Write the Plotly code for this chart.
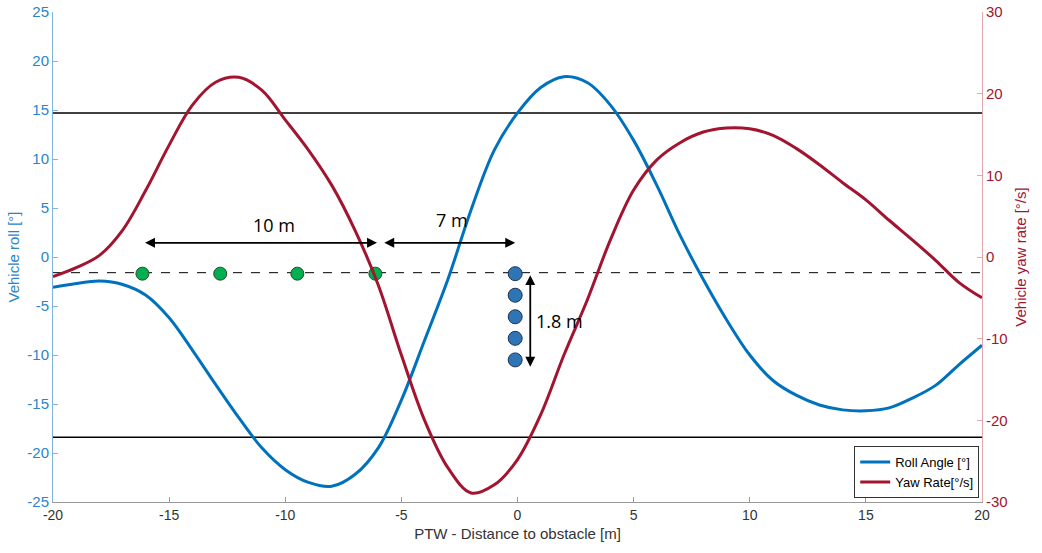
import plotly.graph_objects as go

# Roll angle (left axis, deg)
roll_x = [-20, -19, -18, -17, -16, -15, -14, -13, -12, -11, -10, -9, -8, -7, -6, -5, -4, -3, -2, -1,
          0, 1, 2, 3, 4, 5, 6, 7, 8, 9, 10, 11, 12, 13, 14, 15, 16, 17, 18, 19, 20]
roll_y = [-3.1, -2.7, -2.45, -2.8, -3.9, -6.2, -9.5, -13.0, -16.4, -19.5, -21.7, -23.0, -23.4, -22.2,
          -19.5, -14.6, -8.5, -2.3, 4.8, 10.9, 14.7, 17.3, 18.4, 17.8, 15.5, 11.9, 7.3, 2.2, -2.3,
          -6.4, -10.0, -12.6, -14.1, -15.1, -15.6, -15.7, -15.4, -14.4, -13.1, -11.0, -9.0]

# Yaw rate (right axis, deg/s)
yaw_x = [-20, -19, -18, -17, -16, -15, -14, -13, -12, -11, -10, -9, -8, -7, -6, -5, -4, -3, -2, -1,
         0, 1, 2, 3, 4, 5, 6, 7, 8, 9, 10, 11, 12, 13, 14, 15, 16, 17, 18, 19, 20]
yaw_y = [-2.4, -1.3, 0.2, 3.3, 8.2, 13.7, 18.6, 21.4, 22.0, 20.4, 16.8, 13.1, 8.8, 3.3, -3.4, -12.0,
         -20.0, -25.8, -28.9, -27.9, -24.8, -19.3, -12.0, -5.3, 2.1, 8.2, 11.9, 14.0, 15.3, 15.8,
         15.7, 14.9, 13.3, 11.3, 9.1, 7.0, 4.5, 2.1, -0.4, -3.1, -5.0]

# Tick labels
x_ticks = [-20, -15, -10, -5, 0, 5, 10, 15, 20]
y1_ticks = [-25, -20, -15, -10, -5, 0, 5, 10, 15, 20, 25]
y2_ticks = [-30, -20, -10, 0, 10, 20, 30]

# Reference lines (left axis)
limit_lines = [14.7, -18.4]
lane_line = -1.6

# Cones
green_x = [-16.15, -12.8, -9.48, -6.12]
green_y = [-1.7, -1.7, -1.7, -1.7]
blue_x = [-0.1, -0.1, -0.1, -0.1, -0.1]
blue_y = [-1.7, -3.9, -6.1, -8.3, -10.5]

# Dimension arrows: (x0, y0, x1, y1)
arrows = [(-16.1, 1.45, -6.05, 1.45), (-5.8, 1.45, -0.1, 1.45), (0.55, -1.7, 0.55, -11.2)]
labels = [("10 m", -10.5, 3.3), ("7 m", -2.8, 3.8), ("1.8 m", 1.8, -6.5)]

BLUE = "#0072BD"
RED = "#A2142F"
FONT = "Liberation Sans, Arial, sans-serif"


def txt(vals):
    return [str(v) for v in vals]


fig = go.Figure()
fig.add_trace(go.Scatter(x=roll_x, y=roll_y, mode="lines", line=dict(color=BLUE, width=3, shape="spline"),
                         name="Roll Angle [°]", yaxis="y"))
fig.add_trace(go.Scatter(x=yaw_x, y=yaw_y, mode="lines", line=dict(color=RED, width=3, shape="spline"),
                         name="Yaw Rate[°/s]", yaxis="y2"))
fig.add_trace(go.Scatter(x=green_x, y=green_y, mode="markers", showlegend=False,
                         marker=dict(color="#00B050", size=13, line=dict(color="#2b4a2b", width=1))))
fig.add_trace(go.Scatter(x=blue_x, y=blue_y, mode="markers", showlegend=False,
                         marker=dict(color="#2E75B6", size=14, line=dict(color="#1f3350", width=1))))

shapes = []
for v in limit_lines:
    shapes.append(dict(type="line", xref="paper", yref="y", x0=0, x1=1, y0=v, y1=v,
                       line=dict(color="black", width=1.5), layer="below"))
shapes.append(dict(type="line", xref="paper", yref="y", x0=0, x1=1, y0=lane_line, y1=lane_line,
                   line=dict(color="black", width=1, dash="dash"), layer="below"))

annotations = []
for (x0, y0, x1, y1) in arrows:
    annotations.append(dict(x=x1, y=y1, ax=x0, ay=y0, xref="x", yref="y", axref="x", ayref="y",
                            text="", showarrow=True, arrowhead=2, arrowside="end+start",
                            arrowsize=1.1, arrowwidth=1.8, arrowcolor="black", startarrowhead=2,
                            startarrowsize=1.1))
for (t, lx, ly) in labels:
    annotations.append(dict(x=lx, y=ly, xref="x", yref="y", text=t, showarrow=False,
                            font=dict(family="Open Sans, sans-serif", size=18, color="black")))

fig.update_layout(
    width=1042, height=553,
    margin=dict(l=53, r=60, t=12, b=51, autoexpand=False),
    paper_bgcolor="white", plot_bgcolor="white",
    font=dict(family=FONT, size=14),
    shapes=shapes, annotations=annotations,
    showlegend=True,
    legend=dict(x=0.997, y=0.008, xanchor="right", yanchor="bottom", bordercolor="#333333",
                borderwidth=1, bgcolor="white", font=dict(size=13, color="black"),
                tracegroupgap=2),
    xaxis=dict(range=[-20, 20], tickvals=x_ticks, ticktext=txt(x_ticks), automargin=False,
               showgrid=False, zeroline=False, showline=True, linecolor="#999999",
               ticks="inside", ticklen=5, tickcolor="#999999",
               tickfont=dict(color="#333333", size=14),
               title=dict(text="PTW - Distance to obstacle [m]", font=dict(color="#333333", size=15),
                          standoff=6)),
    yaxis=dict(range=[-25, 25], tickvals=y1_ticks, ticktext=txt(y1_ticks), automargin=False,
               showgrid=False, zeroline=False, ticklabeloverflow="allow",
               showline=True, linecolor="#7fb3dd", ticks="inside", ticklen=5, tickcolor="#7fb3dd",
               tickfont=dict(color="#2a85c8", size=15),
               title=dict(text="Vehicle roll [°]", font=dict(color="#2a85c8", size=15), standoff=4)),
    yaxis2=dict(range=[-30, 30], tickvals=y2_ticks, ticktext=txt(y2_ticks), automargin=False,
                overlaying="y", side="right", ticklabeloverflow="allow",
                showgrid=False, zeroline=False, showline=True, linecolor="#e3a6ae",
                ticks="inside", ticklen=5, tickcolor="#e3a6ae",
                tickfont=dict(color=RED, size=15),
                title=dict(text="Vehicle yaw rate [°/s]", font=dict(color=RED, size=15), standoff=8)),
)

fig.write_html("out.html", post_script="document.body.style.margin='0';",
               config={"displayModeBar": False})
